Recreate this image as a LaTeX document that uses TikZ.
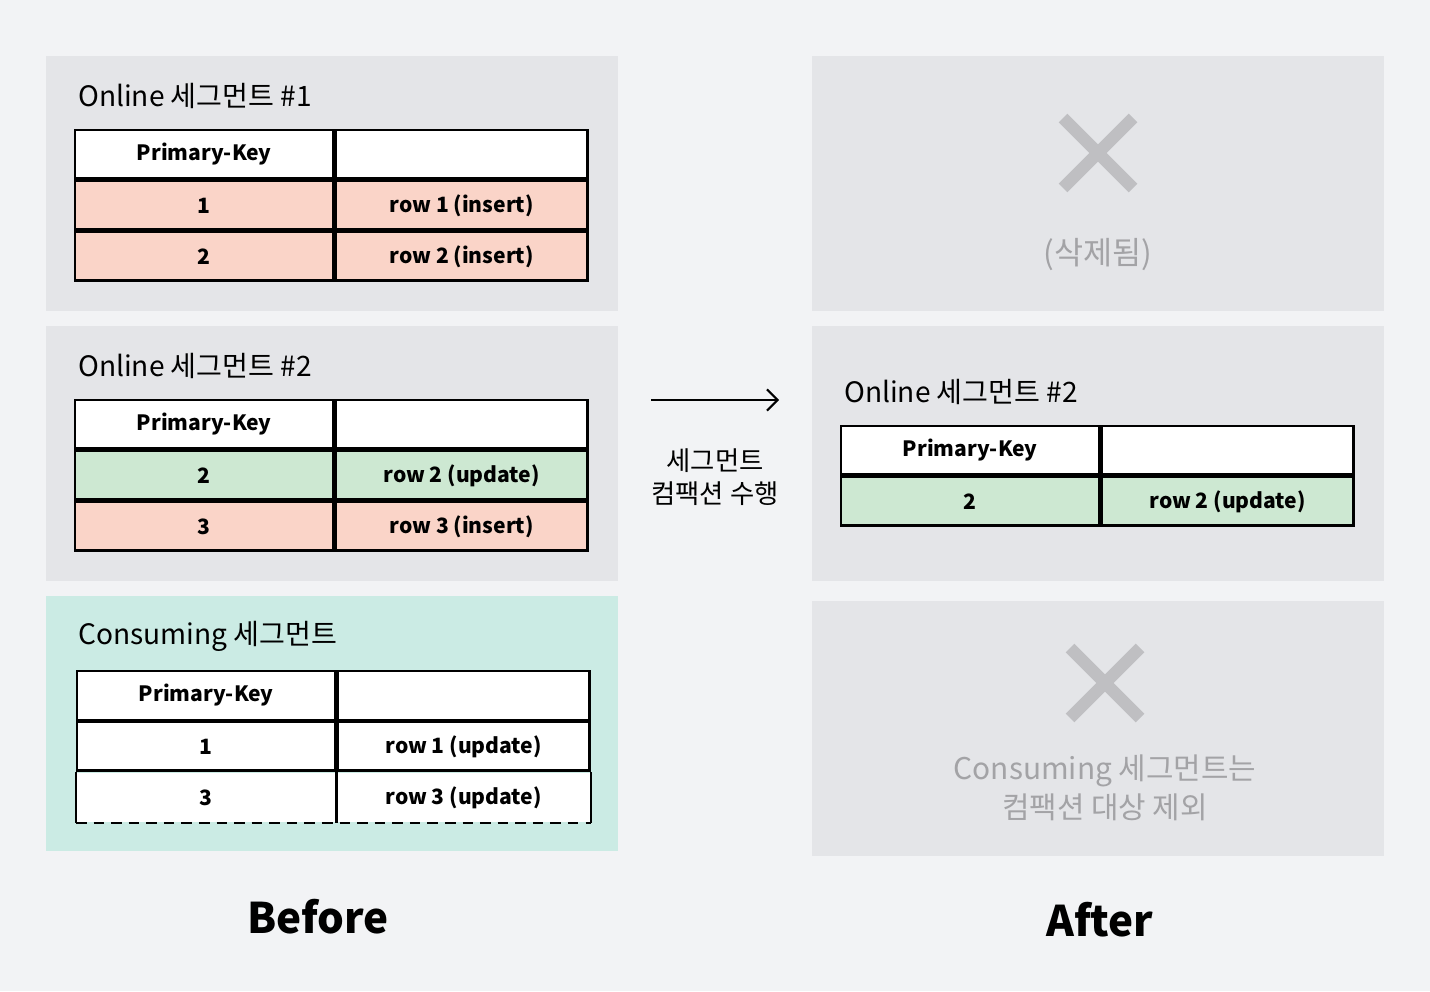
\documentclass[tikz,border=0pt]{standalone}
\usepackage{fontspec}
\setmainfont{Noto Sans CJK KR}
\usetikzlibrary{positioning,calc,arrows.meta}
\definecolor{bgc}{HTML}{F2F3F5}
\definecolor{panelc}{HTML}{E4E5E8}
\definecolor{consc}{HTML}{CBEBE4}
\definecolor{insc}{HTML}{FAD4C8}
\definecolor{updc}{HTML}{CDE8D2}
\definecolor{greyt}{HTML}{A3A3A6}
\definecolor{crossc}{HTML}{BFBFC2}
\tikzset{
  panel/.style={fill=#1, draw=none},
  title/.style={anchor=west, font=\fontsize{16}{18}\selectfont},
  keycell/.style={draw, line width=1.4pt, fill=#1, minimum width=5.16cm, minimum height=0.97cm, inner sep=0pt, font=\fontsize{12}{14}\selectfont\bfseries},
  valcell/.style={draw, line width=1.4pt, fill=#1, minimum width=5.04cm, minimum height=0.97cm, inner sep=0pt, font=\fontsize{12}{14}\selectfont\bfseries},
  cross/.style={crossc, line width=7pt},
  greynote/.style={greyt, align=center, font=\fontsize{18}{22}\selectfont},
  caption/.style={font=\fontsize{24}{28}\selectfont\bfseries}
}
\begin{document}
\begin{tikzpicture}[x=0.02cm,y=-0.02cm]
    \fill[bgc] (0,0) rectangle (1430,991);
    %panels
    \fill[panel=panelc] (46,56) rectangle (618,311);
    \fill[panel=panelc] (46,326) rectangle (618,581);
    \fill[panel=consc] (46,596) rectangle (618,851);
    \fill[panel=panelc] (812,56) rectangle (1384,311);
    \fill[panel=panelc] (812,326) rectangle (1384,581);
    \fill[panel=panelc] (812,601) rectangle (1384,856);
    %segment 1
    \node[title] (t1) at (72,96) {Online 세그먼트 \#1};
    \node[keycell=white, anchor=north west] (k1h) at (74,129) {Primary-Key};
    \node[valcell=white, anchor=west] (v1h) at (k1h.east) {};
    \node[keycell=insc, below=0pt of k1h] (k1a) {1};
    \node[valcell=insc, anchor=west] (v1a) at (k1a.east) {row 1 (insert)};
    \node[keycell=insc, below=0pt of k1a] (k1b) {2};
    \node[valcell=insc, anchor=west] (v1b) at (k1b.east) {row 2 (insert)};
    %segment 2
    \node[title] (t2) at (72,366) {Online 세그먼트 \#2};
    \node[keycell=white, anchor=north west] (k2h) at (74,399) {Primary-Key};
    \node[valcell=white, anchor=west] (v2h) at (k2h.east) {};
    \node[keycell=updc, below=0pt of k2h] (k2a) {2};
    \node[valcell=updc, anchor=west] (v2a) at (k2a.east) {row 2 (update)};
    \node[keycell=insc, below=0pt of k2a] (k2b) {3};
    \node[valcell=insc, anchor=west] (v2b) at (k2b.east) {row 3 (insert)};
    %consuming segment
    \node[title] (t3) at (72,636) {Consuming 세그먼트};
    \node[keycell=white, anchor=north west] (k3h) at (76,670) {Primary-Key};
    \node[valcell=white, anchor=west] (v3h) at (k3h.east) {};
    \node[keycell=white, below=0pt of k3h] (k3a) {1};
    \node[valcell=white, anchor=west] (v3a) at (k3a.east) {row 1 (update)};
    \node[keycell=white, below=0pt of k3a, draw=none] (k3b) {3};
    \node[valcell=white, anchor=west, draw=none] (v3b) at (k3b.east) {row 3 (update)};
    \draw[line width=1.4pt] (k3b.south west) -- (k3b.north west);
    \draw[line width=1.4pt] (k3b.south east) -- (k3b.north east);
    \draw[line width=1.4pt] (v3b.south east) -- (v3b.north east);
    \draw[line width=1.4pt, dashed, dash pattern=on 6pt off 4pt] (k3b.south west) -- (v3b.south east);
    %arrow
    \coordinate (a0) at (651,400);
    \coordinate (a1) at (779,400);
    \draw[-{Straight Barb[length=6pt,width=12pt]}, line width=1.2pt] (a0) -- (a1);
    \node[align=center, font=\fontsize{15}{19}\selectfont, below=0.85cm of $(a0)!0.5!(a1)$] (act) {세그먼트\\컴팩션 수행};
    %after: deleted segment 1
    \draw[cross] (1063,118) -- (1133,188) (1063,188) -- (1133,118);
    \node[greynote] (del) at (1098,255) {(삭제됨)};
    %after: segment 2
    \node[title] (t4) at (838,392) {Online 세그먼트 \#2};
    \node[keycell=white, anchor=north west] (k4h) at (840,425) {Primary-Key};
    \node[valcell=white, anchor=west] (v4h) at (k4h.east) {};
    \node[keycell=updc, below=0pt of k4h] (k4a) {2};
    \node[valcell=updc, anchor=west] (v4a) at (k4a.east) {row 2 (update)};
    %after: consuming excluded
    \draw[cross] (1070,648) -- (1140,718) (1070,718) -- (1140,648);
    \node[greynote, font=\fontsize{17}{22}\selectfont] (excl) at (1105,788) {Consuming 세그먼트는\\컴팩션 대상 제외};
    %captions
    \node[caption] (before) at (318,917) {Before};
    \node[caption] (after) at (1100,920) {After};
\end{tikzpicture}
\end{document}
